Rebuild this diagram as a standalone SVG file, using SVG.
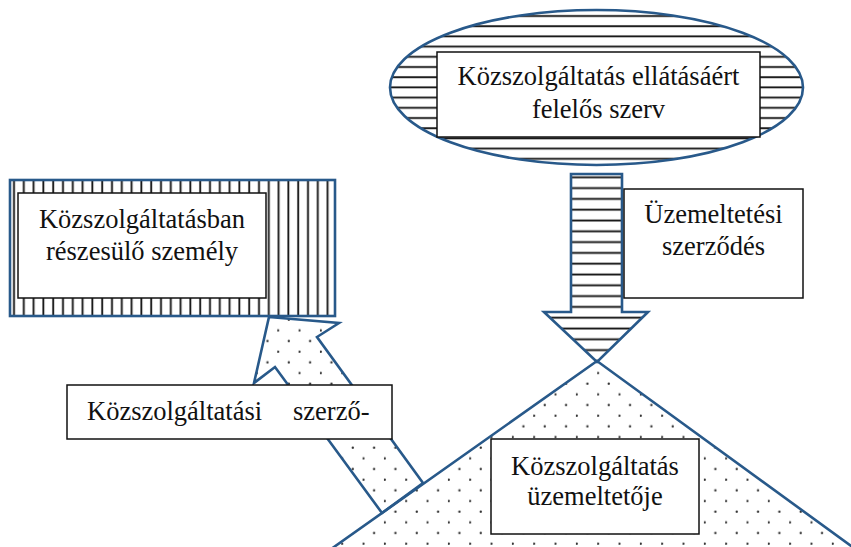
<svg xmlns="http://www.w3.org/2000/svg" width="851" height="547" viewBox="0 0 851 547">
  <defs>
    <pattern id="hatchH" x="0" y="0" width="20" height="10.2" patternUnits="userSpaceOnUse">
      <rect x="0" y="4.6" width="20" height="2.4" fill="#9a9a9a"/>
      <rect x="0" y="5.1" width="20" height="1.4" fill="#111"/>
    </pattern>
    <pattern id="hatchH2" x="0" y="0" width="20" height="10.8" patternUnits="userSpaceOnUse">
      <rect x="0" y="3.3" width="20" height="2.4" fill="#9a9a9a"/>
      <rect x="0" y="3.8" width="20" height="1.4" fill="#111"/>
    </pattern>
    <pattern id="hatchV" x="0" y="0" width="9.8" height="20" patternUnits="userSpaceOnUse">
      <rect x="3.0" y="0" width="2.4" height="20" fill="#9a9a9a"/>
      <rect x="3.5" y="0" width="1.4" height="20" fill="#111"/>
    </pattern>
    <pattern id="dots" x="0" y="0" width="21.33" height="21.33" patternUnits="userSpaceOnUse">
      <circle cx="0.8" cy="10.4" r="1.2" fill="#333"/>
      <circle cx="11.5" cy="21.1" r="1.2" fill="#333"/>
      <circle cx="11.5" cy="-0.23" r="1.2" fill="#333"/>
    </pattern>
  </defs>
  <style>
    .blue { stroke: #28598a; stroke-width: 2.6; stroke-linejoin: miter; }
    .box { fill: #fff; stroke: #111; stroke-width: 1.5; }
    .txt { font-family: "Liberation Serif", "Times New Roman", serif; font-size: 26.5px; fill: #111; text-anchor: middle; }
  </style>

  <g id="operator">
    <polygon class="blue" points="597,361 317,559 869,559" fill="url(#dots)"/>
    <rect class="box" x="491" y="439" width="208" height="95"/>
    <text class="txt" font-family="Liberation Serif, serif" x="595" y="475">Közszolgáltatás</text>
    <text class="txt" font-family="Liberation Serif, serif" x="595" y="505">üzemeltetője</text>
  </g>

  <g id="connectors">
    <g id="service-contract-arrow">
      <polygon class="blue" points="269,317 339,323 317,337 423,483 382,513 275,367 254,383" fill="url(#dots)"/>
    </g>
    <g id="operating-contract-arrow">
      <polygon class="blue" points="571,174 622,174 622,312 648,312 597,362 544,312 571,312" fill="url(#hatchH2)"/>
    </g>
  </g>

  <g id="service-contract-label">
    <rect class="box" x="67" y="385" width="325" height="54"/>
    <text class="txt" font-family="Liberation Serif, serif" style="text-anchor:start" x="87" y="420">Közszolgáltatási<tspan x="293">szerző-</tspan></text>
  </g>

  <g id="beneficiary">
    <rect class="blue" x="10" y="180" width="325" height="136" fill="url(#hatchV)"/>
    <rect class="box" x="18" y="193" width="248" height="105"/>
    <text class="txt" font-family="Liberation Serif, serif" x="142" y="228">Közszolgáltatásban</text>
    <text class="txt" font-family="Liberation Serif, serif" x="142" y="260">részesülő személy</text>
  </g>

  <g id="authority">
    <ellipse class="blue" cx="596.5" cy="87.5" rx="206.5" ry="77.5" fill="url(#hatchH)"/>
    <rect class="box" x="437" y="52" width="323" height="85"/>
    <text class="txt" font-family="Liberation Serif, serif" x="598.5" y="85">Közszolgáltatás ellátásáért</text>
    <text class="txt" font-family="Liberation Serif, serif" x="598.5" y="118">felelős szerv</text>
  </g>

  <g id="operating-contract-label">
    <rect class="box" x="624" y="189" width="179" height="109"/>
    <text class="txt" font-family="Liberation Serif, serif" x="713.5" y="223">Üzemeltetési</text>
    <text class="txt" font-family="Liberation Serif, serif" x="713.5" y="255">szerződés</text>
  </g>
</svg>
